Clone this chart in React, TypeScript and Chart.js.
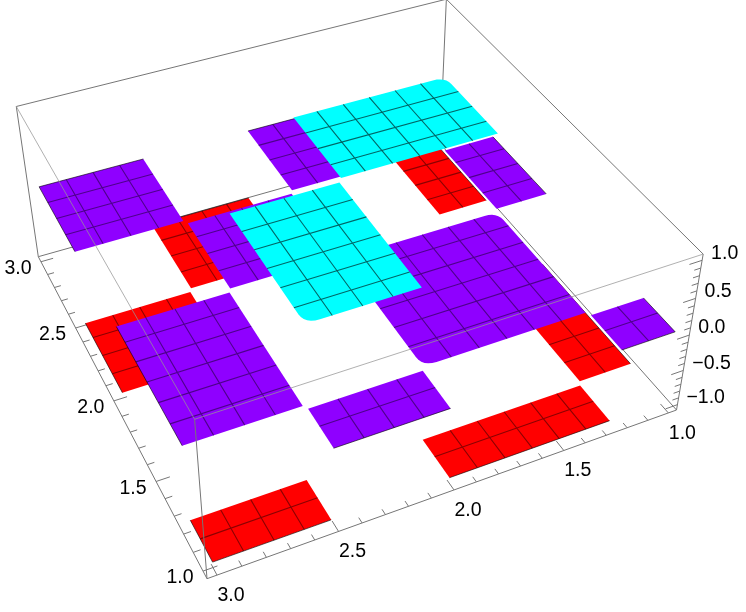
import React, { useEffect, useRef } from "react";
import { Chart, registerables } from "chart.js";
Chart.register(...registerables);

// Data: a 4x4 block table of plateau heights
const uBands = [[1, 1.25], [1.25, 2], [2, 2.5], [2.5, 3]];
const vBands = [[1, 1.25], [1.25, 2], [2, 2.5], [2.5, 3]];
const heights = [
  [0, -1, 0, -1],
  [-1, 0, 1, 0],
  [0, 1, 0, -1],
  [-1, 0, -1, 0],
];
// rounded plateau corners [u band, v band, corner u, corner v]
const roundedCorners = [[1, 2, 1.25, 2.5], [2, 1, 2.5, 1.25], [1, 1, 2, 1.25], [1, 1, 1.25, 2]];
const meshStep = 0.125;
const boxUV = [0.96, 3.04];
const boxZ = [-1.08, 1.08];
const uTickLabels = ["1.0", "1.5", "2.0", "2.5", "3.0"];
const vTickLabels = ["1.0", "1.5", "2.0", "2.5", "3.0"];
const zTickLabels = ["\u22121.0", "\u22120.5", "0.0", "0.5", "1.0"];
const uvMinorTicks = [1, 1.1, 1.2, 1.3, 1.4, 1.5, 1.6, 1.7, 1.8, 1.9, 2, 2.1, 2.2, 2.3, 2.4, 2.5, 2.6, 2.7, 2.8, 2.9, 3];
const zMinorTicks = [-1, -0.9, -0.8, -0.7, -0.6, -0.5, -0.4, -0.3, -0.2, -0.1, 0, 0.1, 0.2, 0.3, 0.4, 0.5, 0.6, 0.7, 0.8, 0.9, 1];
// how far each level's plateau edges stop short of the band limits: [uLow, uHigh, vLow, vHigh]
const edgeTrim: Record<string, number[]> = {
  "-1": [0.012, 0.0, 0.0, 0.022],
  "0": [0.012, 0.0, 0.0, 0.022],
  "1": [0.004, 0.015, 0.025, 0.0],
};

// Camera calibration
const A = [207, 578.7], B = [676.5, 410], C = [38.3, 256.7], D = [440.1, 143.7], VP = [344.8, 2348];
const lam = -0.08265;
const dx1 = B[0] - D[0], dx2 = C[0] - D[0], sx = A[0] - B[0] + D[0] - C[0];
const dy1 = B[1] - D[1], dy2 = C[1] - D[1], sy = A[1] - B[1] + D[1] - C[1];
const den = dx1 * dy2 - dx2 * dy1;
const g = (sx * dy2 - dx2 * sy) / den, h = (dx1 * sy - sx * dy1) / den;
const a = B[0] - A[0] + g * B[0], b = C[0] - A[0] + h * C[0], c = A[0];
const d = B[1] - A[1] + g * B[1], e = C[1] - A[1] + h * C[1], f = A[1];
function proj(u: number, v: number, z: number) {
  const s = (boxUV[1] - u) / (boxUV[1] - boxUV[0]);
  const t = (v - boxUV[0]) / (boxUV[1] - boxUV[0]);
  const r = (z - boxZ[0]) / (boxZ[1] - boxZ[0]);
  const w = g * s + h * t + 1 + r * lam;
  return { x: (a * s + b * t + c + r * lam * VP[0]) / w, y: (d * s + e * t + f + r * lam * VP[1]) / w };
}

const GAP = { x: NaN, y: NaN };
const colors: Record<string, string> = { "-1": "#ff0000", "0": "#8f00ff", "1": "#00ffff" };
const meshColors: Record<string, string> = { "-1": "rgba(0,0,0,0.45)", "0": "rgba(0,0,0,0.45)", "1": "rgba(0,0,0,0.6)" };
const boxColor = "rgb(118,118,118)";
const boxOver = "rgba(150,150,150,0.75)";
const RAD = 0.06;

function isRounded(iu: number, iv: number, u: number, v: number) {
  return roundedCorners.some((q) => q[0] === iu && q[1] === iv && q[2] === u && q[3] === v);
}
function limits(iu: number, iv: number, z: number) {
  const [tu0, tu1, tv0, tv1] = edgeTrim[String(z)];
  const [u0, u1] = uBands[iu], [v0, v1] = vBands[iv];
  return [u0 === 1 ? u0 : u0 + tu0, u1 === 3 ? u1 : u1 - tu1, v0 === 1 ? v0 : v0 + tv0, v1 === 3 ? v1 : v1 - tv1];
}
function outline(iu: number, iv: number, z: number) {
  const [u0, u1] = uBands[iu], [v0, v1] = vBands[iv];
  const [lu0, lu1, lv0, lv1] = limits(iu, iv, z);
  const corners = [[u0, v0, lu0, lv0, 1, 1], [u1, v0, lu1, lv0, -1, 1], [u1, v1, lu1, lv1, -1, -1], [u0, v1, lu0, lv1, 1, -1]];
  const pts: any[] = [];
  corners.forEach(([nu, nv, u, v, du, dv], i) => {
    if (isRounded(iu, iv, nu, nv)) {
      const first = i % 2 === 0 ? [u, v + dv * RAD] : [u + du * RAD, v];
      const last = i % 2 === 0 ? [u + du * RAD, v] : [u, v + dv * RAD];
      for (let k = 0; k <= 6; k++) {
        const q = k / 6;
        const pu = (1 - q) * (1 - q) * first[0] + 2 * q * (1 - q) * u + q * q * last[0];
        const pv = (1 - q) * (1 - q) * first[1] + 2 * q * (1 - q) * v + q * q * last[1];
        pts.push(proj(pu, pv, z));
      }
    } else pts.push(proj(u, v, z));
  });
  pts.push(pts[0]);
  return pts;
}
function steps(lo: number, hi: number) {
  const out: number[] = [];
  for (let i = Math.round(lo / meshStep) + 1; i * meshStep < hi - 1e-6; i++) out.push(i * meshStep);
  return out;
}
function segLine(list: any[][], color: string, width = 1) {
  const data: any[] = [];
  list.forEach((s) => { data.push(s[0], s[1], GAP); });
  return { data, borderColor: color, borderWidth: width, showLine: true, pointRadius: 0, fill: false, spanGaps: false };
}
const E = (u0: number, v0: number, z0: number, u1: number, v1: number, z1: number) => [proj(u0, v0, z0), proj(u1, v1, z1)];

function buildDatasets() {
  const [l, m] = boxUV, [zl, zm] = boxZ;
  const list: any[] = [];
  list.push(segLine([E(m, m, zl, l, m, zl), E(l, l, zl, l, m, zl), E(l, m, zl, l, m, zm)], boxColor));
  const ticks: any[][] = [E(m, l, zl, m, m, zl), E(m, l, zl, l, l, zl), E(l, l, zl, l, l, zm)];
  uvMinorTicks.forEach((q, i) => {
    const len = i % 5 === 0 ? 0.058 : 0.03;
    ticks.push(E(m, q, zl, m - len, q, zl));
    ticks.push(E(q, l, zl, q, l + len, zl));
  });
  zMinorTicks.forEach((q, i) => {
    const len = i % 5 === 0 ? 0.058 : 0.03;
    ticks.push(E(l, l, q, l + len, l, q));
  });
  list.push(segLine(ticks, boxColor));
  [-1, 0, 1].forEach((level) => {
    heights.forEach((row, iv) => row.forEach((zv, iu) => {
      if (zv !== level) return;
      const [u0, u1] = uBands[iu], [v0, v1] = vBands[iv];
      const [lu0, lu1, lv0, lv1] = limits(iu, iv, zv);
      list.push({ data: outline(iu, iv, zv), backgroundColor: colors[String(zv)], borderWidth: 0, showLine: true, pointRadius: 0, fill: "shape" });
      const mesh: any[][] = [];
      steps(u0, u1).forEach((q) => mesh.push(E(q, lv0, zv, q, lv1, zv)));
      steps(v0, v1).forEach((q) => mesh.push(E(lu0, q, zv, lu1, q, zv)));
      list.push(segLine(mesh, meshColors[String(zv)], 1.1));
      const rim: any[][] = [];
      if (v0 === 1) rim.push(E(lu0, v0, zv, lu1, v0, zv));
      if (v1 === 3) rim.push(E(lu0, v1, zv, lu1, v1, zv));
      if (u0 === 1) rim.push(E(u0, lv0, zv, u0, lv1, zv));
      if (u1 === 3) rim.push(E(u1, lv0, zv, u1, lv1, zv));
      if (rim.length) list.push(segLine(rim, "rgba(0,0,0,0.6)"));
    }));
  });
  list.push(segLine([E(m, l, zl, m, l, zm), E(m, m, zl, m, m, zm), E(m, m, zm, l, m, zm), E(l, m, zm, l, l, zm)], boxColor));
  list.push(segLine([E(m, l, zm, l, l, zm), E(m, l, zm, m, m, zm)], boxOver));
  const N = list.length;
  list.forEach((ds, i) => { ds.order = N - i; });
  return list;
}

const labelPlugin = {
  id: "boxLabels",
  afterDatasetsDraw(chart: any) {
    const ctx = chart.ctx, X = chart.scales.x, Y = chart.scales.y;
    const [l, m] = boxUV;
    ctx.save();
    ctx.fillStyle = "#000";
    ctx.font = '19.5px "Liberation Sans", Arial, sans-serif';
    ctx.textBaseline = "middle";
    ctx.textAlign = "center";
    vTickLabels.forEach((t) => {
      const p = proj(m, parseFloat(t), boxZ[0]);
      ctx.fillText(t, X.getPixelForValue(p.x) - 23, Y.getPixelForValue(p.y) + 7);
    });
    uTickLabels.forEach((t) => {
      const p = proj(parseFloat(t), l, boxZ[0]);
      ctx.fillText(t, X.getPixelForValue(p.x) + 14, Y.getPixelForValue(p.y) + 20.5);
    });
    ctx.textAlign = "left";
    zTickLabels.forEach((t) => {
      const p = proj(l, l, parseFloat(t.replace("\u2212", "-")));
      ctx.fillText(t, X.getPixelForValue(p.x) + 9, Y.getPixelForValue(p.y) - 7);
    });
    ctx.restore();
  },
};

export default function App() {
  const ref = useRef<HTMLCanvasElement>(null);
  useEffect(() => {
    const chart = new Chart(ref.current!, {
      type: "scatter",
      data: { datasets: buildDatasets() },
      options: {
        responsive: false,
        animation: false,
        layout: { padding: 0 },
        plugins: { legend: { display: false }, tooltip: { enabled: false }, title: { display: false } },
        scales: {
          x: { type: "linear", min: 0, max: 746, display: false },
          y: { type: "linear", min: 0, max: 612, reverse: true, display: false },
        },
      },
      plugins: [labelPlugin],
    } as any);
    return () => chart.destroy();
  }, []);
  return (
    <div style={{ position: "absolute", left: 0, top: 0, width: 746, height: 612, background: "#fff" }}>
      <canvas ref={ref} width={746} height={612} style={{ display: "block" }} />
    </div>
  );
}
